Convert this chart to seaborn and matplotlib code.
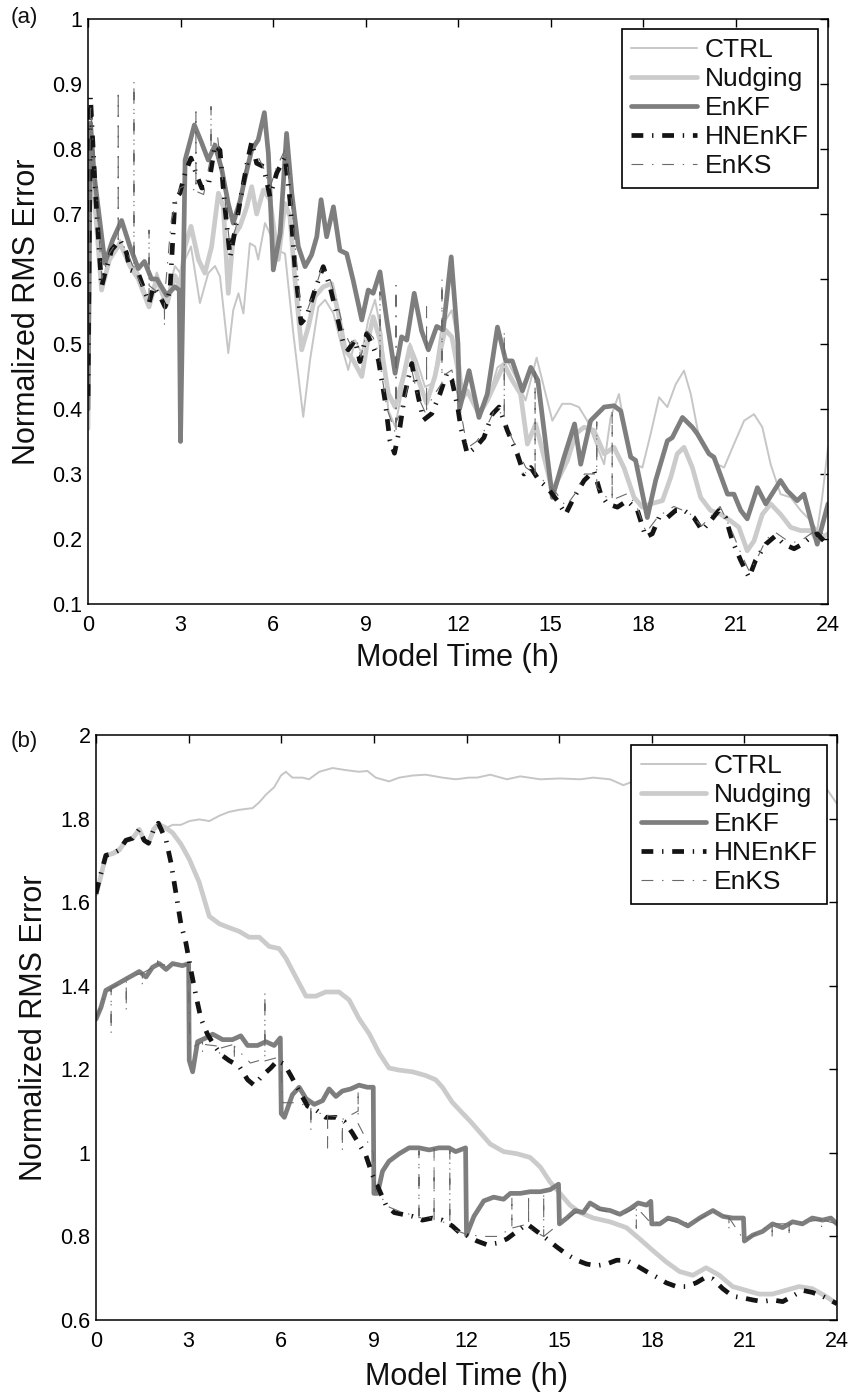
import numpy as np
import matplotlib
matplotlib.use("Agg")
import matplotlib.pyplot as plt
import seaborn as sns

# ---------------- data: panel (a) ----------------
a_ctrl_t = [0, 0.08, 0.2, 0.44, 0.7, 1.04, 1.3, 1.63, 1.98, 2.23, 2.55, 2.82, 2.98, 3.15, 3.34, 3.63, 3.9, 4.12, 4.28, 4.55,
            4.71, 4.88, 5.04, 5.25, 5.42, 5.52, 5.74, 5.9, 6.12, 6.39, 6.66, 6.98, 7.2, 7.47, 7.69, 7.96, 8.23, 8.44, 8.66, 8.88,
            9.09, 9.31, 9.52, 9.74, 9.96, 10.17, 10.44, 10.66, 10.93, 11.2, 11.47, 11.8, 12.0, 12.15, 12.36, 12.68, 13.0, 13.28,
            13.6, 13.92, 14.19, 14.55, 14.79, 15.06, 15.38, 15.65, 15.92, 16.19, 16.52, 16.74, 16.95, 17.22, 17.49, 17.76, 17.98,
            18.25, 18.52, 18.79, 19.06, 19.33, 19.55, 19.82, 20.14, 20.41, 20.63, 20.95, 21.28, 21.6, 21.87, 22.14, 22.46, 22.79,
            23.11, 23.44, 23.65, 23.81, 24.0]
a_ctrl_v = [0.37, 0.83, 0.72, 0.588, 0.63, 0.66, 0.63, 0.61, 0.563, 0.61, 0.57, 0.62, 0.61, 0.63, 0.65, 0.563, 0.609, 0.62, 0.604, 0.486,
            0.552, 0.578, 0.547, 0.655, 0.65, 0.63, 0.686, 0.67, 0.645, 0.639, 0.516, 0.388, 0.475, 0.557, 0.568, 0.547, 0.496, 0.46, 0.506, 0.486,
            0.537, 0.568, 0.516, 0.398, 0.373, 0.424, 0.501, 0.475, 0.434, 0.44, 0.527, 0.552, 0.50, 0.43, 0.423, 0.397, 0.418, 0.464,
            0.474, 0.444, 0.413, 0.479, 0.433, 0.382, 0.408, 0.408, 0.403, 0.382, 0.341, 0.315, 0.387, 0.423, 0.346, 0.315, 0.31,
            0.362, 0.418, 0.403, 0.438, 0.459, 0.423, 0.356, 0.331, 0.315, 0.31, 0.346, 0.382, 0.392, 0.372, 0.315, 0.269, 0.264,
            0.244, 0.228, 0.213, 0.264, 0.341]

a_nud_t = [0, 0.08, 0.2, 0.44, 0.7, 1.04, 1.36, 1.63, 1.98, 2.23, 2.55, 2.82, 2.98, 3.15, 3.34, 3.58, 3.79, 4.01, 4.23, 4.39,
           4.55, 4.71, 4.93, 5.15, 5.31, 5.47, 5.69, 5.9, 6.17, 6.39, 6.55, 6.71, 6.93, 7.15, 7.36, 7.63, 7.9, 8.12, 8.34, 8.6,
           8.88, 9.04, 9.25, 9.47, 9.74, 9.96, 10.23, 10.44, 10.71, 10.98, 11.25, 11.58, 11.8, 12.0, 12.05, 12.3, 12.68, 12.95,
           13.49, 13.76, 14.03, 14.25, 14.52, 14.79, 15.06, 15.33, 15.55, 15.82, 16.09, 16.41, 16.74, 17.06, 17.38, 17.71, 17.98,
           18.25, 18.63, 18.9, 19.11, 19.33, 19.6, 19.87, 20.19, 20.52, 20.84, 21.11, 21.38, 21.6, 21.87, 22.14, 22.46, 22.79,
           23.11, 23.44, 23.65, 24.0]
a_nud_v = [0.37, 0.84, 0.73, 0.583, 0.63, 0.655, 0.62, 0.60, 0.557, 0.60, 0.56, 0.605, 0.588, 0.65, 0.681, 0.63, 0.609, 0.65, 0.732, 0.711,
           0.578, 0.665, 0.681, 0.711, 0.742, 0.70, 0.737, 0.722, 0.63, 0.716, 0.696, 0.60, 0.491, 0.527, 0.573, 0.588, 0.593, 0.547, 0.491, 0.475,
           0.45, 0.496, 0.542, 0.506, 0.424, 0.403, 0.45, 0.496, 0.445, 0.409, 0.45, 0.522, 0.511, 0.46, 0.41, 0.428, 0.392, 0.413,
           0.469, 0.444, 0.423, 0.346, 0.377, 0.326, 0.274, 0.30, 0.321, 0.362, 0.372, 0.367, 0.331, 0.341, 0.31, 0.264, 0.249,
           0.254, 0.259, 0.295, 0.331, 0.341, 0.31, 0.264, 0.244, 0.238, 0.228, 0.218, 0.182, 0.197, 0.238, 0.254, 0.238, 0.218,
           0.213, 0.213, 0.197, 0.208]

a_enkf_t = [0, 0.08, 0.2, 0.55, 0.8, 1.09, 1.36, 1.63, 1.83, 2.06, 2.23, 2.55, 2.82, 2.96, 3.0, 3.15, 3.45, 3.69, 3.9, 4.12,
            4.34, 4.55, 4.71, 4.93, 5.09, 5.31, 5.52, 5.72, 5.85, 6.01, 6.23, 6.44, 6.61, 6.82, 7.04, 7.25, 7.42, 7.56, 7.74, 7.96,
            8.17, 8.39, 8.6, 8.88, 9.09, 9.25, 9.47, 9.69, 9.96, 10.17, 10.34, 10.58, 10.82, 11.04, 11.31, 11.52, 11.78, 12.0, 12.05,
            12.36, 12.68, 12.95, 13.28, 13.55, 13.76, 14.09, 14.36, 14.59, 15.06, 15.44, 15.78, 15.98, 16.3, 16.74, 17.06, 17.28,
            17.6, 17.76, 18.14, 18.41, 18.79, 18.95, 19.28, 19.6, 19.76, 20.14, 20.3, 20.74, 20.95, 21.17, 21.38, 21.71, 21.98,
            22.46, 22.68, 23.0, 23.22, 23.65, 24.0]
a_enkf_v = [0.40, 0.84, 0.76, 0.624, 0.66, 0.69, 0.65, 0.616, 0.627, 0.60, 0.60, 0.575, 0.588, 0.583, 0.35, 0.783, 0.837, 0.809, 0.783, 0.806,
            0.768, 0.716, 0.686, 0.72, 0.755, 0.799, 0.814, 0.856, 0.793, 0.614, 0.67, 0.824, 0.732, 0.65, 0.619, 0.637, 0.665, 0.722, 0.665, 0.711,
            0.644, 0.639, 0.598, 0.537, 0.583, 0.578, 0.611, 0.537, 0.455, 0.511, 0.506, 0.578, 0.52, 0.491, 0.527, 0.522, 0.634, 0.50, 0.40,
            0.459, 0.387, 0.423, 0.526, 0.474, 0.474, 0.428, 0.464, 0.444, 0.264, 0.326, 0.377, 0.315, 0.382, 0.403, 0.405, 0.397,
            0.326, 0.321, 0.233, 0.29, 0.351, 0.356, 0.387, 0.372, 0.362, 0.331, 0.326, 0.269, 0.269, 0.244, 0.231, 0.279, 0.254,
            0.29, 0.274, 0.259, 0.269, 0.192, 0.254]

a_hn_t = [0, 0.08, 0.23, 0.44, 0.55, 0.77, 1.04, 1.25, 1.36, 1.63, 1.79, 1.98, 2.12, 2.34, 2.5, 2.66, 2.82, 2.98, 3.15, 3.34,
          3.52, 3.69, 3.9, 4.12, 4.28, 4.44, 4.61, 4.77, 4.98, 5.2, 5.31, 5.47, 5.69, 5.9, 6.12, 6.39, 6.55, 6.71, 6.91, 7.09,
          7.36, 7.63, 7.85, 8.06, 8.28, 8.44, 8.66, 8.82, 9.04, 9.2, 9.42, 9.63, 9.79, 9.94, 10.12, 10.28, 10.5, 10.71, 10.88,
          11.15, 11.42, 11.64, 11.8, 12.0, 12.09, 12.3, 12.57, 12.84, 13.11, 13.33, 13.6, 13.92, 14.14, 14.36, 14.63, 14.9,
          15.22, 15.49, 15.76, 16.09, 16.41, 16.63, 16.84, 17.17, 17.49, 17.82, 18.09, 18.3, 18.52, 18.79, 19.06, 19.33, 19.65,
          19.92, 20.19, 20.46, 20.68, 20.9, 21.17, 21.44, 21.65, 21.98, 22.3, 22.57, 22.9, 23.17, 23.44, 23.65, 23.87, 24.0]
a_hn_v = [0.42, 0.88, 0.742, 0.588, 0.609, 0.645, 0.66, 0.64, 0.614, 0.609, 0.588, 0.563, 0.588, 0.573, 0.557, 0.583, 0.722, 0.732, 0.763, 0.786,
          0.76, 0.74, 0.742, 0.806, 0.798, 0.711, 0.634, 0.675, 0.732, 0.788, 0.811, 0.778, 0.773, 0.727, 0.763, 0.788, 0.722, 0.619, 0.532, 0.542,
          0.583, 0.619, 0.588, 0.547, 0.501, 0.491, 0.506, 0.473, 0.516, 0.501, 0.475, 0.414, 0.352, 0.332, 0.373, 0.424, 0.47, 0.419, 0.383,
          0.393, 0.424, 0.455, 0.445, 0.40, 0.372, 0.331, 0.341, 0.356, 0.392, 0.403, 0.367, 0.331, 0.30, 0.31, 0.29, 0.279,
          0.259, 0.238, 0.264, 0.29, 0.305, 0.269, 0.254, 0.249, 0.259, 0.244, 0.203, 0.208, 0.233, 0.233, 0.244, 0.244, 0.233,
          0.213, 0.228, 0.244, 0.233, 0.197, 0.167, 0.141, 0.167, 0.192, 0.205, 0.192, 0.185, 0.192, 0.203, 0.208, 0.197, 0.197]

a_enks_t = [0, 0.08, 0.25, 0.45, 0.7, 0.98, 0.98, 0.98, 1.25, 1.49, 1.49, 1.49, 1.75, 1.98, 1.98, 1.98, 2.25, 2.48, 2.48, 2.48,
            2.7, 2.98, 3.2, 3.5, 3.5, 3.5, 3.75, 3.99, 3.99, 3.99, 4.2, 4.45, 4.6, 4.8, 4.98, 5.2, 5.5, 5.7, 5.9, 6.1,
            6.4, 6.6, 6.9, 7.1, 7.4, 7.6, 7.85, 8.1, 8.3, 8.5, 8.7, 8.85, 9.05, 9.25, 9.47, 9.47, 9.47, 9.7, 9.99, 9.99,
            9.99, 10.2, 10.5, 10.7, 10.98, 10.98, 10.98, 11.2, 11.48, 11.48, 11.48, 11.8, 12.0, 12.3, 12.6, 12.9, 13.2, 13.5, 13.5, 13.5,
            13.9, 14.2, 14.5, 14.5, 14.5, 14.9, 15.2, 15.5, 15.8, 16.1, 16.5, 16.5, 16.5, 16.9, 17.0, 17.0, 17.0, 17.5, 17.8, 18.1,
            18.5, 19.0, 19.5, 19.9, 20.2, 20.5, 20.9, 21.2, 21.45, 21.7, 22.0, 22.3, 22.6, 22.9, 23.2, 23.5, 23.8, 24.0]
a_enks_v = [0.42, 0.87, 0.75, 0.60, 0.64, 0.66, 0.89, 0.66, 0.645, 0.615, 0.905, 0.615, 0.59, 0.565, 0.675, 0.59, 0.58, 0.565, 0.527, 0.57,
            0.69, 0.74, 0.745, 0.735, 0.857, 0.735, 0.73, 0.79, 0.865, 0.80, 0.82, 0.72, 0.65, 0.68, 0.74, 0.79, 0.79, 0.77, 0.74, 0.77,
            0.80, 0.72, 0.55, 0.55, 0.59, 0.62, 0.60, 0.56, 0.52, 0.50, 0.51, 0.48, 0.52, 0.51, 0.48, 0.58, 0.47, 0.40, 0.36, 0.59,
            0.38, 0.40, 0.46, 0.42, 0.39, 0.557, 0.40, 0.42, 0.44, 0.60, 0.45, 0.46, 0.42, 0.34, 0.35, 0.37, 0.40, 0.39, 0.52, 0.38,
            0.34, 0.31, 0.30, 0.46, 0.30, 0.285, 0.27, 0.25, 0.27, 0.30, 0.30, 0.38, 0.28, 0.26, 0.26, 0.40, 0.26, 0.27, 0.25, 0.21,
            0.235, 0.25, 0.24, 0.22, 0.235, 0.25, 0.21, 0.175, 0.15, 0.17, 0.20, 0.21, 0.20, 0.195, 0.20, 0.21, 0.21, 0.20]

# ---------------- data: panel (b) ----------------
b_ctrl_t = [0, 0.11, 0.32, 0.54, 0.76, 0.97, 1.19, 1.4, 1.56, 1.7, 1.83, 2.0, 2.21, 2.48, 2.75, 3.02, 3.34, 3.67, 4.0, 4.31,
            4.64, 5.07, 5.29, 5.5, 5.77, 5.99, 6.15, 6.36, 6.69, 6.9, 7.23, 7.66, 8.09, 8.52, 8.79, 9.06, 9.49, 9.82, 10.25, 10.68,
            11.22, 11.65, 12.08, 12.34, 12.77, 13.31, 13.74, 14.39, 15.03, 15.68, 16.11, 16.65, 17.08, 17.4, 17.83, 18.26, 18.8,
            19.33, 19.87, 20.41, 20.95, 21.48, 22.02, 22.56, 23.1, 23.63, 24.0]
b_ctrl_v = [1.63, 1.657, 1.712, 1.72, 1.73, 1.748, 1.757, 1.775, 1.748, 1.744, 1.775, 1.789, 1.775, 1.785, 1.785, 1.794, 1.798, 1.794, 1.807, 1.816,
            1.821, 1.825, 1.839, 1.857, 1.875, 1.903, 1.912, 1.898, 1.898, 1.894, 1.912, 1.921, 1.916, 1.912, 1.914, 1.898, 1.889, 1.898, 1.903, 1.905,
            1.898, 1.894, 1.898, 1.898, 1.905, 1.894, 1.901, 1.894, 1.896, 1.894, 1.898, 1.894, 1.88, 1.889, 1.903, 1.898, 1.903,
            1.898, 1.903, 1.898, 1.903, 1.898, 1.903, 1.901, 1.903, 1.875, 1.835]

b_nud_t = [0, 0.11, 0.32, 0.54, 0.76, 0.97, 1.19, 1.4, 1.56, 1.7, 1.87, 2.02, 2.21, 2.48, 2.75, 3.02, 3.34, 3.67, 4.0, 4.31,
           4.64, 4.96, 5.29, 5.61, 5.93, 6.15, 6.47, 6.8, 7.12, 7.44, 7.87, 8.2, 8.52, 8.85, 9.17, 9.49, 9.82, 10.25, 10.68, 11.0,
           11.22, 11.54, 11.87, 12.13, 12.45, 12.77, 13.2, 13.63, 14.06, 14.39, 14.71, 15.03, 15.35, 15.68, 16.11, 16.65, 17.18,
           17.61, 18.04, 18.47, 18.9, 19.33, 19.76, 20.19, 20.62, 21.05, 21.48, 21.91, 22.34, 22.77, 23.2, 23.63, 24.0]
b_nud_v = [1.62, 1.648, 1.712, 1.716, 1.725, 1.748, 1.753, 1.774, 1.748, 1.741, 1.774, 1.786, 1.78, 1.766, 1.739, 1.703, 1.648, 1.566, 1.548, 1.539,
           1.53, 1.516, 1.516, 1.494, 1.489, 1.466, 1.421, 1.375, 1.375, 1.385, 1.385, 1.366, 1.321, 1.285, 1.239, 1.203, 1.198, 1.194, 1.185, 1.175,
           1.157, 1.121, 1.095, 1.075, 1.048, 1.021, 1.003, 0.998, 0.989, 0.966, 0.93, 0.903, 0.875, 0.857, 0.844, 0.835, 0.821,
           0.794, 0.766, 0.739, 0.716, 0.707, 0.725, 0.707, 0.68, 0.671, 0.662, 0.662, 0.671, 0.68, 0.675, 0.657, 0.639]

b_enkf_t = [0, 0.16, 0.32, 0.54, 0.76, 0.97, 1.19, 1.4, 1.62, 1.83, 2.05, 2.27, 2.48, 2.8, 3.0, 3.02, 3.13, 3.29, 3.56, 3.78,
            4.1, 4.42, 4.69, 4.91, 5.23, 5.5, 5.77, 5.97, 6.0, 6.1, 6.36, 6.58, 6.8, 7.07, 7.34, 7.55, 7.77, 7.98, 8.25, 8.52,
            8.79, 8.98, 9.0, 9.12, 9.28, 9.49, 9.82, 10.14, 10.46, 10.79, 11.11, 11.43, 11.65, 11.97, 12.0, 12.24, 12.56, 12.88,
            13.2, 13.42, 13.74, 14.06, 14.39, 14.71, 14.98, 15.01, 15.25, 15.52, 15.78, 16.0, 16.32, 16.65, 16.97, 17.29, 17.56,
            17.83, 17.97, 18.0, 18.26, 18.53, 18.8, 19.17, 19.55, 19.98, 20.3, 20.62, 20.97, 21.0, 21.27, 21.59, 21.91, 22.24,
            22.56, 22.88, 23.2, 23.53, 23.8, 24.0]
b_enkf_v = [1.32, 1.348, 1.389, 1.398, 1.407, 1.416, 1.425, 1.434, 1.421, 1.444, 1.453, 1.439, 1.453, 1.448, 1.453, 1.221, 1.194, 1.266, 1.275, 1.284,
            1.271, 1.271, 1.28, 1.257, 1.257, 1.266, 1.257, 1.275, 1.094, 1.085, 1.139, 1.157, 1.13, 1.116, 1.125, 1.153, 1.135, 1.148, 1.153, 1.162,
            1.157, 1.157, 0.903, 0.903, 0.956, 0.98, 0.998, 1.012, 1.012, 1.007, 1.012, 1.012, 1.003, 1.012, 0.803, 0.848, 0.885, 0.894,
            0.889, 0.903, 0.903, 0.907, 0.907, 0.912, 0.925, 0.83, 0.844, 0.862, 0.857, 0.88, 0.866, 0.862, 0.853, 0.866, 0.88,
            0.875, 0.884, 0.83, 0.83, 0.844, 0.839, 0.825, 0.844, 0.862, 0.848, 0.844, 0.844, 0.789, 0.803, 0.812, 0.83, 0.821,
            0.835, 0.83, 0.844, 0.839, 0.844, 0.83]

b_hn_t = [0, 0.11, 0.32, 0.54, 0.76, 0.97, 1.19, 1.4, 1.56, 1.7, 1.87, 2.02, 2.27, 2.43, 2.59, 2.75, 2.91, 3.07, 3.24, 3.4,
          3.61, 3.83, 4.05, 4.31, 4.64, 4.91, 5.12, 5.39, 5.66, 5.88, 6.1, 6.31, 6.58, 6.85, 7.12, 7.44, 7.77, 8.04, 8.3, 8.52,
          8.74, 8.95, 9.17, 9.39, 9.66, 9.92, 10.25, 10.57, 10.9, 11.22, 11.54, 11.87, 12.0, 12.34, 12.67, 12.99, 13.31, 13.63,
          13.96, 14.28, 14.6, 14.92, 15.25, 15.57, 15.89, 16.22, 16.54, 16.86, 17.18, 17.51, 17.83, 18.15, 18.47, 18.8, 19.12,
          19.44, 19.76, 19.98, 20.3, 20.62, 20.95, 21.27, 21.59, 21.91, 22.24, 22.56, 22.88, 23.2, 23.53, 24.0]
b_hn_v = [1.62, 1.655, 1.712, 1.716, 1.725, 1.748, 1.753, 1.774, 1.748, 1.741, 1.774, 1.789, 1.748, 1.694, 1.621, 1.548, 1.503, 1.439, 1.375, 1.321,
          1.284, 1.257, 1.235, 1.221, 1.207, 1.175, 1.162, 1.185, 1.203, 1.221, 1.212, 1.185, 1.148, 1.112, 1.103, 1.085, 1.085, 1.075, 1.048, 1.021,
          0.994, 0.948, 0.912, 0.875, 0.857, 0.853, 0.848, 0.839, 0.844, 0.839, 0.825, 0.803, 0.803, 0.789, 0.78, 0.784, 0.794, 0.812,
          0.83, 0.812, 0.794, 0.775, 0.757, 0.743, 0.734, 0.73, 0.734, 0.743, 0.743, 0.73, 0.716, 0.703, 0.689, 0.68, 0.68,
          0.689, 0.703, 0.698, 0.675, 0.657, 0.653, 0.648, 0.644, 0.648, 0.644, 0.657, 0.671, 0.666, 0.657, 0.639]

b_enks_t = [0, 0.25, 0.49, 0.49, 0.49, 0.75, 0.98, 0.98, 0.98, 1.25, 1.5, 1.5, 1.5, 1.75, 2.0, 2.0, 2.0, 2.5, 2.98, 3.05,
            3.45, 3.45, 3.45, 4.0, 4.0, 4.0, 4.48, 4.48, 4.48, 5.0, 5.47, 5.47, 5.47, 5.97, 6.05, 6.5, 6.96, 6.96, 6.96, 7.5,
            7.5, 7.5, 7.98, 7.98, 7.98, 8.49, 8.49, 8.49, 8.98, 9.05, 9.5, 10.0, 10.46, 10.46, 10.46, 10.95, 10.95, 10.95, 11.46, 11.46,
            11.46, 12.0, 12.5, 13.0, 13.47, 13.47, 13.47, 14.01, 14.01, 14.01, 14.5, 14.5, 14.5, 15.0, 15.5, 16.0, 16.5, 17.0, 17.5, 17.5,
            17.5, 18.0, 18.5, 19.0, 19.5, 20.0, 20.5, 20.5, 20.5, 21.0, 21.45, 21.9, 21.9, 21.9, 22.45, 22.45, 22.45, 23.0, 23.5, 23.5,
            23.5, 24.0]
b_enks_v = [1.32, 1.37, 1.395, 1.285, 1.395, 1.405, 1.41, 1.34, 1.415, 1.425, 1.43, 1.40, 1.43, 1.44, 1.45, 1.47, 1.45, 1.45, 1.45, 1.25,
            1.265, 1.24, 1.26, 1.255, 1.235, 1.25, 1.26, 1.225, 1.255, 1.215, 1.225, 1.385, 1.22, 1.23, 1.12, 1.12, 1.11, 1.053, 1.10, 1.09,
            1.012, 1.09, 1.085, 1.005, 1.08, 1.10, 1.15, 1.07, 1.0, 0.91, 0.87, 0.855, 0.85, 1.005, 0.845, 0.845, 1.01, 0.84, 0.83, 1.005,
            0.82, 0.805, 0.80, 0.80, 0.82, 0.895, 0.82, 0.83, 0.90, 0.82, 0.80, 0.905, 0.80, 0.83, 0.855, 0.87, 0.86, 0.85, 0.87, 0.82,
            0.87, 0.83, 0.84, 0.83, 0.84, 0.86, 0.845, 0.815, 0.845, 0.79, 0.81, 0.83, 0.795, 0.83, 0.83, 0.80, 0.83, 0.835, 0.84, 0.82,
            0.84, 0.83]

series_names = ["CTRL", "Nudging", "EnKF", "HNEnKF", "EnKS"]
a_x_ticks = [0, 3, 6, 9, 12, 15, 18, 21, 24]
a_y_ticks = [0.1, 0.2, 0.3, 0.4, 0.5, 0.6, 0.7, 0.8, 0.9, 1.0]
a_y_labels = ["0.1", "0.2", "0.3", "0.4", "0.5", "0.6", "0.7", "0.8", "0.9", "1"]
b_y_ticks = [0.6, 0.8, 1.0, 1.2, 1.4, 1.6, 1.8, 2.0]
b_y_labels = ["0.6", "0.8", "1", "1.2", "1.4", "1.6", "1.8", "2"]

# ---------------- styles ----------------
DASHDOT = (0, (8.5, 6.3, 1.0, 6.3))
STYLE = {
    "CTRL":    dict(color="#c6c6c6", lw=1.4, ls="-"),
    "Nudging": dict(color="#cbcbcb", lw=3.4, ls="-"),
    "EnKF":    dict(color="#7e7e7e", lw=3.4, ls="-"),
    "HNEnKF":  dict(color="#141414", lw=3.4, ls=DASHDOT),
    "EnKS":    dict(color="#6a6a6a", lw=0.8, ls=DASHDOT),
}

sns.set_theme(style="white")
plt.rcParams["font.family"] = ["Liberation Sans", "DejaVu Sans"]
plt.rcParams["lines.scale_dashes"] = False
plt.rcParams["lines.solid_joinstyle"] = "round"
plt.rcParams["lines.dash_joinstyle"] = "round"

W, H = 851, 1398
fig = plt.figure(figsize=(W / 100, H / 100), dpi=100)
fig.patch.set_facecolor("white")


def ax_rect(l, t, r, b):
    return [l / W, 1 - b / H, (r - l) / W, (b - t) / H]


ax_a = fig.add_axes(ax_rect(88, 19, 828, 604))
ax_b = fig.add_axes(ax_rect(96, 735, 837, 1320))

panel_a = [(a_ctrl_t, a_ctrl_v), (a_nud_t, a_nud_v), (a_enkf_t, a_enkf_v), (a_hn_t, a_hn_v), (a_enks_t, a_enks_v)]
panel_b = [(b_ctrl_t, b_ctrl_v), (b_nud_t, b_nud_v), (b_enkf_t, b_enkf_v), (b_hn_t, b_hn_v), (b_enks_t, b_enks_v)]


def draw(ax, panel, ylim, yticks, ylabels, ylab_x, xlab_y):
    for name, (t, v) in zip(series_names, panel):
        st = STYLE[name]
        sns.lineplot(x=t, y=v, ax=ax, estimator=None, sort=False, label=name,
                     color=st["color"], linewidth=st["lw"], linestyle=st["ls"])
    ax.set_xlim(0, 24)
    ax.set_ylim(*ylim)
    ax.set_xticks(a_x_ticks)
    ax.set_xticklabels([str(x) for x in a_x_ticks])
    ax.set_yticks(yticks)
    ax.set_yticklabels(ylabels)
    ax.tick_params(direction="in", length=6, width=1.0, top=True, right=True,
                   labelsize=15.5, colors="black")
    ax.tick_params(axis="x", pad=8)
    ax.tick_params(axis="y", pad=4)
    for sp in ax.spines.values():
        sp.set_color("black")
        sp.set_linewidth(1.1)
        sp.set_visible(True)
    ax.set_facecolor("white")
    ax.set_xlabel("Model Time (h)", fontsize=22, color="#111111")
    ax.set_ylabel("Normalized RMS Error", fontsize=22, color="#111111")
    ax.xaxis.set_label_coords(0.5, xlab_y)
    ax.yaxis.set_label_coords(ylab_x, 0.5)
    leg = ax.legend(loc="upper right", fontsize=19, frameon=True, fancybox=False,
                    edgecolor="black", framealpha=1, borderaxespad=0.38,
                    handlelength=2.5, handletextpad=0.28, labelspacing=0.19,
                    borderpad=0.35)
    leg.get_frame().set_linewidth(1.2)
    for txt in leg.get_texts():
        txt.set_color("#111111")


draw(ax_a, panel_a, (0.1, 1.0), a_y_ticks, a_y_labels, -0.062, -0.066)
draw(ax_b, panel_b, (0.6, 2.0), b_y_ticks, b_y_labels, -0.064, -0.072)

fig.text(24 / W, 1 - 18 / H, "(a)", ha="center", va="center", fontsize=16, color="#111111")
fig.text(24 / W, 1 - 742 / H, "(b)", ha="center", va="center", fontsize=16, color="#111111")

fig.savefig("out.png", dpi=100, facecolor="white")
